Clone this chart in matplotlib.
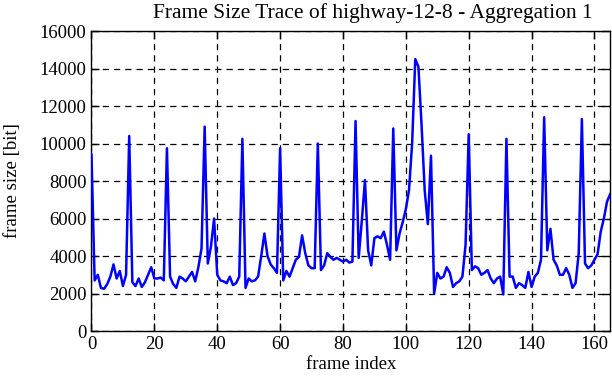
import matplotlib
matplotlib.use('Agg')
import matplotlib.pyplot as plt
import numpy as np

# frame sizes [bit], frames 0..165
frame_size = [
    9400, 2700, 3000, 2300, 2250, 2500, 2900, 3550, 2800, 3200,
    2400, 3000, 10400, 2600, 2400, 2800, 2350, 2600, 3000, 3400,
    2800, 2800, 2850, 2700, 9750, 2900, 2500, 2300, 2900, 2800,
    2650, 2900, 3150, 2650, 3400, 4400, 10900, 3600, 4500, 6000,
    3000, 2700, 2650, 2550, 2900, 2450, 2550, 2900, 10250, 2300,
    2800, 2650, 2700, 2900, 4000, 5200, 4000, 3550, 3350, 3100,
    9750, 2700, 3200, 2900, 3350, 3800, 3950, 5100, 4150, 3500,
    3350, 3350, 10000, 3250, 3500, 4150, 3950, 3800, 3900, 3800,
    3700, 3800, 3650, 3700, 11200, 3900, 5900, 8050, 4300, 3500,
    4950, 5050, 4950, 5300, 4600, 3800, 10800, 4300, 5200, 5800,
    6500, 7500, 10000, 14500, 14100, 11000, 7500, 5700, 9350, 2000,
    3100, 2800, 2900, 3400, 3100, 2350, 2550, 2650, 2900, 4600,
    10500, 3250, 3450, 3350, 3000, 3100, 3250, 2800, 2550, 2800,
    2900, 1950, 10250, 2900, 2900, 2300, 2550, 2450, 2300, 3150,
    2350, 2900, 3100, 3800, 11400, 4300, 5450, 3800, 3500, 3000,
    3000, 3350, 3000, 2300, 2550, 4150, 11300, 3600, 3350, 3500,
    3800, 4100, 5300, 6000, 6900, 7300,
]
frame_index = list(range(len(frame_size)))

x_ticks = [0, 20, 40, 60, 80, 100, 120, 140, 160]
y_ticks = [0, 2000, 4000, 6000, 8000, 10000, 12000, 14000, 16000]

plt.rcParams['font.family'] = ['Liberation Serif', 'DejaVu Serif']
plt.rcParams['font.size'] = 13.5

fig = plt.figure(figsize=(6.12, 3.82), dpi=100)
ax = fig.add_axes([0.1495, 0.1335, 0.8475, 0.7853])

ax.plot(frame_index, frame_size, color='#0000ff', lw=1.8, zorder=3)

ax.set_xlim(0, 165)
ax.set_ylim(0, 16000)
ax.set_xticks(x_ticks)
ax.set_yticks(y_ticks)
ax.grid(True, color='black', linestyle=(0, (5, 4)), linewidth=0.9)
ax.tick_params(direction='in', length=6, width=1, top=True, right=True, color='black')
for s in ax.spines.values():
    s.set_linewidth(1.0)

fig.text(0.609, 0.966, 'Frame Size Trace of highway-12-8 - Aggregation 1',
         ha='center', va='center', fontsize=15.5)
ax.set_xlabel('frame index', labelpad=2)
ax.set_ylabel('frame size [bit]')
ax.yaxis.set_label_coords(-0.135, 0.5)

fig.savefig('out.png', dpi=100)
